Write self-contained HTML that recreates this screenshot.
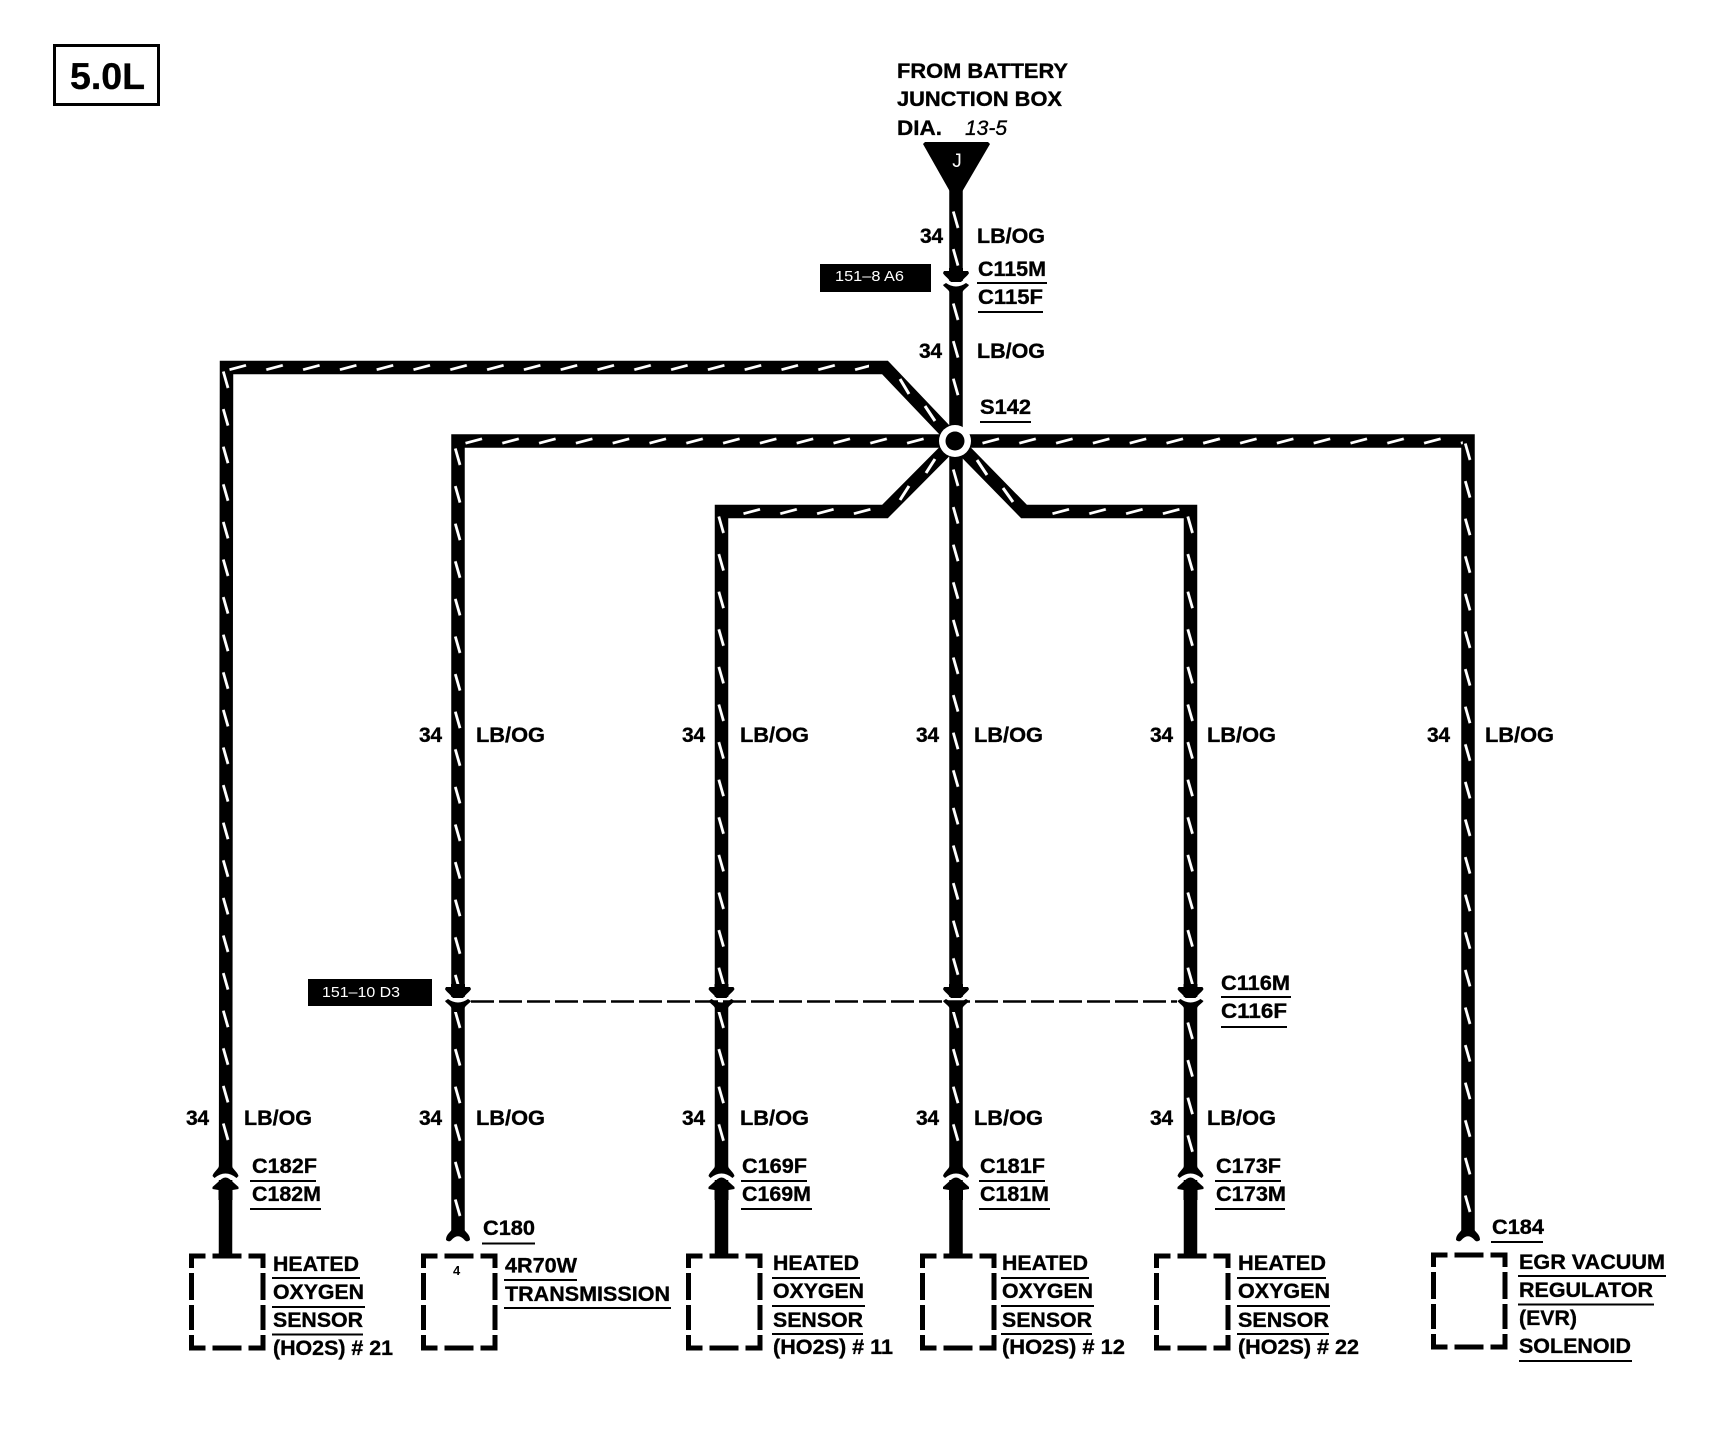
<!DOCTYPE html>
<html><head><meta charset="utf-8"><style>
html,body{margin:0;padding:0;background:#fff}
svg{display:block}
text{font-family:"Liberation Sans",sans-serif;font-weight:700;font-size:21px;fill:#000;stroke:#000;stroke-width:.35}
.s{font-size:15px;font-weight:400;fill:#fff;stroke:none}
.u{stroke:#000;stroke-width:2}
</style></head><body>
<svg width="1728" height="1440" viewBox="0 0 1728 1440" xmlns="http://www.w3.org/2000/svg">
<defs>
<pattern id="v" patternUnits="userSpaceOnUse" width="12" height="37.6"><line x1="3.3" y1="1.5" x2="8" y2="18" stroke="#fff" stroke-width="2.8"/></pattern>
<pattern id="h" patternUnits="userSpaceOnUse" width="36.8" height="12"><line x1="0.5" y1="8.2" x2="17" y2="3.8" stroke="#fff" stroke-width="2.8"/></pattern>
<path id="box" fill="none" stroke="#000" stroke-width="5" d="M0,1268V1256H14M21,1256H50M57,1256H71.5V1268M71.5,1273V1300M71.5,1305V1330M71.5,1335V1348H57M50,1348H21M14,1348H0V1335M0,1330V1305M0,1300V1273"/>
<g id="conn">
<rect x="-8" y="-3" width="16" height="8" fill="#fff"/>
<path d="M-7,-16V-13H-12L-13,-11C-12.5,-9 -8,-6 -6,-3L-5,-2H5L6,-3C8,-6 12.5,-9 13,-11L12,-13H7V-16Z"/>
<path d="M-13,1L-10,-1Q0,6 10,-1L13,1C12,3 8,5 6.5,8V12H-6.5V8C-8,5 -12,3 -13,1Z"/>
</g>
<g id="up">
<rect x="-8" y="-9" width="16" height="11" fill="#fff"/>
<path d="M-6.5,-16V-12C-7,-9 -12,-6 -13,-2L-11,0Q0,-9 11,0L13,-2C12,-6 7,-9 6.5,-12V-16Z"/>
<path d="M-4,1Q0,-2 4,1L13,9V11L7,12V22H-7V12L-13,11V9Z"/>
</g>
<path id="fork" d="M-6.5,-10L-6,-6C-7,-3 -12,-1 -12,5Q-9,7.5 -7,5.5Q0,-3 7,5.5Q9,7.5 12,5C12,-1 7,-3 6,-6L6.5,-10Z"/>
</defs>
<rect width="1728" height="1440" fill="#fff"/>

<!-- engine badge -->
<rect x="54.5" y="45.5" width="104" height="59" fill="none" stroke="#000" stroke-width="3"/>
<text x="70" y="89" style="font-size:37.5px" textLength="75" lengthAdjust="spacingAndGlyphs">5.0L</text>

<!-- wires -->
<g fill="none" stroke="#000" stroke-width="13.5" stroke-linejoin="miter">
<polyline points="225.5,1256 226.5,367.5 885,367.5 955,441"/>
<polyline points="458,1233 458,441 1468,441 1468,1233"/>
<polyline points="721.5,1256 721.5,511.5 885,511.5 955,441"/>
<line x1="956" y1="190" x2="956" y2="1256"/>
<polyline points="1190.5,1256 1190.5,511.5 1024,511.5 955,441"/>
</g>

<!-- triangle -->
<path d="M923,144L925,142H988L990,144L959,197H953Z"/>
<text x="957" y="167" text-anchor="middle" style="font-size:19px;font-weight:400;fill:#fff;stroke:none">J</text>

<!-- vertical dashes -->
<g fill="url(#v)">
<rect width="12" height="775" transform="translate(220,370)"/>
<rect width="12" height="540" transform="translate(452,447)"/>
<rect width="12" height="210" transform="translate(452,1010)"/>
<rect width="12" height="470" transform="translate(715.5,515)"/>
<rect width="12" height="150" transform="translate(715.5,1010)"/>
<rect width="12" height="60" transform="translate(950,210)"/>
<rect width="12" height="103" transform="translate(950,302)"/>
<rect width="12" height="515" transform="translate(950,468)"/>
<rect width="12" height="150" transform="translate(950,1010)"/>
<rect width="12" height="470" transform="translate(1184.5,515)"/>
<rect width="12" height="135" transform="translate(1184.5,1021)"/>
<rect width="12" height="775" transform="translate(1462,442)"/>
</g>
<!-- horizontal dashes -->
<g fill="url(#h)">
<rect width="640" height="12" transform="translate(229,361.5)"/>
<rect width="465" height="12" transform="translate(465,435)"/>
<rect width="240" height="12" transform="translate(982,435)"/>
<rect width="260" height="12" transform="translate(1202.8,435)"/>
<rect width="130" height="12" transform="translate(743,505.5)"/>
<rect width="130" height="12" transform="translate(1052,505.5)"/>
</g>
<!-- diagonal dashes -->
<g stroke="#fff" stroke-width="3" fill="none">
<line x1="900" y1="379" x2="909" y2="394"/><line x1="925" y1="406" x2="935" y2="421"/>
<line x1="926" y1="473" x2="935" y2="459"/><line x1="900" y1="500" x2="909" y2="486"/>
<line x1="977" y1="460" x2="987" y2="475"/><line x1="1003" y1="488" x2="1013" y2="502"/>
</g>

<!-- splice -->
<circle cx="955" cy="441" r="16" fill="#fff"/>
<circle cx="955" cy="441" r="9.5" fill="#000"/>

<!-- connectors -->
<use href="#conn" transform="translate(956,284)"/>
<use href="#conn" transform="translate(458,1000)"/>
<use href="#conn" transform="translate(721.5,1000)"/>
<use href="#conn" transform="translate(956,1000)"/>
<use href="#conn" transform="translate(1190.5,1000)"/>
<use href="#up" transform="translate(225.5,1178)"/>
<use href="#up" transform="translate(721.5,1178)"/>
<use href="#up" transform="translate(956,1178)"/>
<use href="#up" transform="translate(1190.5,1178)"/>
<use href="#fork" transform="translate(458,1235)"/>
<use href="#fork" transform="translate(1468,1235)"/>

<!-- dashed line -->
<line x1="471" y1="1001.5" x2="1177" y2="1001.5" stroke="#000" stroke-width="2.4" stroke-dasharray="23 5"/>

<!-- boxes -->
<use href="#box" transform="translate(191.5,0)"/>
<use href="#box" transform="translate(423.5,0)"/>
<use href="#box" transform="translate(688.5,0)"/>
<use href="#box" transform="translate(922.5,0)"/>
<use href="#box" transform="translate(1156.5,0)"/>
<use href="#box" transform="translate(1433.5,-1)"/>

<!-- black reference tags -->
<rect x="820" y="264" width="111" height="28"/>
<text class="s" x="835" y="281" textLength="69" lengthAdjust="spacingAndGlyphs">151–8 A6</text>
<rect x="308" y="979" width="124" height="27"/>
<text class="s" x="322" y="997" textLength="78" lengthAdjust="spacingAndGlyphs">151–10 D3</text>

<!-- top text -->
<text x="897" y="78" textLength="171" lengthAdjust="spacingAndGlyphs">FROM BATTERY</text>
<text x="897" y="106" textLength="165" lengthAdjust="spacingAndGlyphs">JUNCTION BOX</text>
<text x="897" y="135" textLength="45" lengthAdjust="spacingAndGlyphs">DIA.</text>
<text x="965" y="135" style="font-weight:400;font-style:italic" textLength="42" lengthAdjust="spacingAndGlyphs">13-5</text>

<!-- wire labels -->
<text x="920" y="243" textLength="23">34</text><text x="977" y="243" textLength="68" lengthAdjust="spacingAndGlyphs">LB/OG</text>
<text x="919" y="358" textLength="23">34</text><text x="977" y="358" textLength="68" lengthAdjust="spacingAndGlyphs">LB/OG</text>

<text x="419" y="742" textLength="23">34</text><text x="476" y="742" textLength="69" lengthAdjust="spacingAndGlyphs">LB/OG</text>
<text x="682" y="742" textLength="23">34</text><text x="740" y="742" textLength="69" lengthAdjust="spacingAndGlyphs">LB/OG</text>
<text x="916" y="742" textLength="23">34</text><text x="974" y="742" textLength="69" lengthAdjust="spacingAndGlyphs">LB/OG</text>
<text x="1150" y="742" textLength="23">34</text><text x="1207" y="742" textLength="69" lengthAdjust="spacingAndGlyphs">LB/OG</text>
<text x="1427" y="742" textLength="23">34</text><text x="1485" y="742" textLength="69" lengthAdjust="spacingAndGlyphs">LB/OG</text>

<text x="186" y="1125" textLength="23">34</text><text x="244" y="1125" textLength="68" lengthAdjust="spacingAndGlyphs">LB/OG</text>
<text x="419" y="1125" textLength="23">34</text><text x="476" y="1125" textLength="69" lengthAdjust="spacingAndGlyphs">LB/OG</text>
<text x="682" y="1125" textLength="23">34</text><text x="740" y="1125" textLength="69" lengthAdjust="spacingAndGlyphs">LB/OG</text>
<text x="916" y="1125" textLength="23">34</text><text x="974" y="1125" textLength="69" lengthAdjust="spacingAndGlyphs">LB/OG</text>
<text x="1150" y="1125" textLength="23">34</text><text x="1207" y="1125" textLength="69" lengthAdjust="spacingAndGlyphs">LB/OG</text>

<!-- connector labels -->
<text x="978" y="276" textLength="68" lengthAdjust="spacingAndGlyphs">C115M</text>
<line class="u" x1="977" y1="283" x2="1047" y2="283"/>
<text x="978" y="304" textLength="65" lengthAdjust="spacingAndGlyphs">C115F</text>
<line class="u" x1="978" y1="312" x2="1043" y2="312"/>
<text x="980" y="414" textLength="51" lengthAdjust="spacingAndGlyphs">S142</text>
<line class="u" x1="980" y1="422" x2="1031" y2="422"/>

<text x="1221" y="990" textLength="69" lengthAdjust="spacingAndGlyphs">C116M</text>
<line class="u" x1="1221" y1="997" x2="1291" y2="997"/>
<text x="1221" y="1018" textLength="66" lengthAdjust="spacingAndGlyphs">C116F</text>
<line class="u" x1="1221" y1="1027" x2="1287" y2="1027"/>

<text x="252" y="1173" textLength="65" lengthAdjust="spacingAndGlyphs">C182F</text>
<line class="u" x1="250" y1="1181" x2="316" y2="1181"/>
<text x="252" y="1201" textLength="69" lengthAdjust="spacingAndGlyphs">C182M</text>
<line class="u" x1="250" y1="1209" x2="321" y2="1209"/>

<text x="742" y="1173" textLength="65" lengthAdjust="spacingAndGlyphs">C169F</text>
<line class="u" x1="741" y1="1181" x2="807" y2="1181"/>
<text x="742" y="1201" textLength="69" lengthAdjust="spacingAndGlyphs">C169M</text>
<line class="u" x1="741" y1="1209" x2="812" y2="1209"/>

<text x="980" y="1173" textLength="65" lengthAdjust="spacingAndGlyphs">C181F</text>
<line class="u" x1="979" y1="1181" x2="1045" y2="1181"/>
<text x="980" y="1201" textLength="69" lengthAdjust="spacingAndGlyphs">C181M</text>
<line class="u" x1="979" y1="1209" x2="1050" y2="1209"/>

<text x="1216" y="1173" textLength="65" lengthAdjust="spacingAndGlyphs">C173F</text>
<line class="u" x1="1215" y1="1181" x2="1281" y2="1181"/>
<text x="1216" y="1201" textLength="70" lengthAdjust="spacingAndGlyphs">C173M</text>
<line class="u" x1="1215" y1="1209" x2="1285" y2="1209"/>

<text x="483" y="1235" textLength="52" lengthAdjust="spacingAndGlyphs">C180</text>
<line class="u" x1="482" y1="1243.5" x2="535" y2="1243.5"/>
<text x="1492" y="1234" textLength="52" lengthAdjust="spacingAndGlyphs">C184</text>
<line class="u" x1="1491" y1="1242" x2="1543" y2="1242"/>

<!-- component text -->
<text x="273" y="1271" textLength="86" lengthAdjust="spacingAndGlyphs">HEATED</text>
<line class="u" x1="272" y1="1278" x2="360" y2="1278"/>
<text x="273" y="1299" textLength="91" lengthAdjust="spacingAndGlyphs">OXYGEN</text>
<line class="u" x1="272" y1="1307" x2="365" y2="1307"/>
<text x="273" y="1327" textLength="90" lengthAdjust="spacingAndGlyphs">SENSOR</text>
<line class="u" x1="272" y1="1334.5" x2="363" y2="1334.5"/>
<text x="273" y="1355" textLength="120" lengthAdjust="spacingAndGlyphs">(HO2S) # 21</text>

<text x="453" y="1275" style="font-size:13px;stroke:none">4</text>
<text x="505" y="1272.5" textLength="72" lengthAdjust="spacingAndGlyphs">4R70W</text>
<line class="u" x1="504" y1="1280" x2="577" y2="1280"/>
<text x="505" y="1301" textLength="165" lengthAdjust="spacingAndGlyphs">TRANSMISSION</text>
<line class="u" x1="504" y1="1308" x2="671" y2="1308"/>

<text x="773" y="1270" textLength="86" lengthAdjust="spacingAndGlyphs">HEATED</text>
<line class="u" x1="772" y1="1278" x2="860" y2="1278"/>
<text x="773" y="1298" textLength="91" lengthAdjust="spacingAndGlyphs">OXYGEN</text>
<line class="u" x1="772" y1="1306" x2="865" y2="1306"/>
<text x="773" y="1327" textLength="90" lengthAdjust="spacingAndGlyphs">SENSOR</text>
<line class="u" x1="772" y1="1334" x2="863" y2="1334"/>
<text x="773" y="1354" textLength="120" lengthAdjust="spacingAndGlyphs">(HO2S) # 11</text>

<text x="1002" y="1270" textLength="86" lengthAdjust="spacingAndGlyphs">HEATED</text>
<line class="u" x1="1001" y1="1278" x2="1089" y2="1278"/>
<text x="1002" y="1298" textLength="91" lengthAdjust="spacingAndGlyphs">OXYGEN</text>
<line class="u" x1="1001" y1="1306" x2="1094" y2="1306"/>
<text x="1002" y="1327" textLength="90" lengthAdjust="spacingAndGlyphs">SENSOR</text>
<line class="u" x1="1001" y1="1334" x2="1092" y2="1334"/>
<text x="1002" y="1354" textLength="123" lengthAdjust="spacingAndGlyphs">(HO2S) # 12</text>

<text x="1238" y="1270" textLength="88" lengthAdjust="spacingAndGlyphs">HEATED</text>
<line class="u" x1="1237" y1="1278" x2="1326" y2="1278"/>
<text x="1238" y="1298" textLength="92" lengthAdjust="spacingAndGlyphs">OXYGEN</text>
<line class="u" x1="1237" y1="1306" x2="1330" y2="1306"/>
<text x="1238" y="1327" textLength="91" lengthAdjust="spacingAndGlyphs">SENSOR</text>
<line class="u" x1="1237" y1="1334" x2="1329" y2="1334"/>
<text x="1238" y="1354" textLength="121" lengthAdjust="spacingAndGlyphs">(HO2S) # 22</text>

<text x="1519" y="1269" textLength="146" lengthAdjust="spacingAndGlyphs">EGR VACUUM</text>
<line class="u" x1="1518" y1="1276" x2="1666" y2="1276"/>
<text x="1519" y="1297" textLength="134" lengthAdjust="spacingAndGlyphs">REGULATOR</text>
<line class="u" x1="1518" y1="1304.5" x2="1654" y2="1304.5"/>
<text x="1519" y="1325" textLength="58" lengthAdjust="spacingAndGlyphs">(EVR)</text>
<text x="1519" y="1353" textLength="112" lengthAdjust="spacingAndGlyphs">SOLENOID</text>
<line class="u" x1="1519" y1="1361" x2="1632" y2="1361"/>
</svg>
</body></html>
